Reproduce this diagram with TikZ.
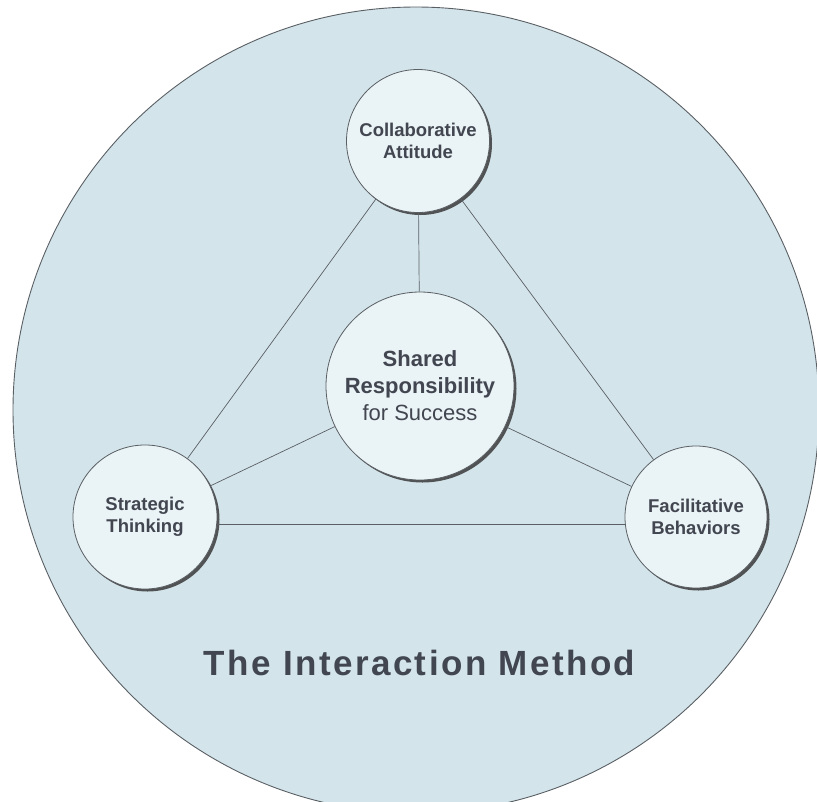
\documentclass[tikz,border=0pt]{standalone}
\usepackage{fontspec}
\setmainfont{Liberation Sans}
\newfontfamily\titlefont[LetterSpace=7]{Liberation Sans}
\usepackage{xcolor}
\usepackage{tikz}
\usetikzlibrary{shadows}
\definecolor{bigfill}{HTML}{D3E5EB}
\definecolor{smallfill}{HTML}{EAF3F5}
\definecolor{edgegray}{HTML}{5A5F64}
\definecolor{textgray}{HTML}{424650}
\definecolor{shadowgray}{HTML}{505254}
\tikzset{
  pillar/.style={circle, draw=edgegray, line width=0.8pt, fill=smallfill, text=textgray,
    align=center, inner sep=0pt,
    drop shadow={shadow xshift=2.5pt, shadow yshift=-2.5pt, fill=shadowgray, opacity=1}},
  link/.style={edgegray, line width=0.7pt}
}

\begin{document}
\begin{tikzpicture}[x=1pt, y=-1pt]
  \useasboundingbox (0,0) rectangle (817,801);
  \clip (0,0) rectangle (817,801);
  \draw[edgegray, line width=0.9pt, fill=bigfill] (416,410) circle (403);
  \node[pillar, minimum size=143pt, font=\fontsize{18.5}{22}\selectfont\bfseries] (collab) at (418,141) {Collaborative\\Attitude};
  \node[pillar, minimum size=188pt, font=\fontsize{22}{27}\selectfont] (shared) at (420,386) {\textbf{Shared}\\\textbf{Responsibility}\\for Success};
  \node[pillar, minimum size=144pt, font=\fontsize{18.5}{22}\selectfont\bfseries] (strat) at (145,517) {Strategic\\Thinking};
  \node[pillar, minimum size=142pt, font=\fontsize{18.5}{22}\selectfont\bfseries] (facil) at (696,517) {Facilitative\\Behaviors};
  \draw[link] (collab) -- (shared);
  \draw[link] (collab) -- (strat);
  \draw[link] (collab) -- (facil);
  \draw[link] (shared) -- (strat);
  \draw[link] (shared) -- (facil);
  \draw[link] (strat.-6) -- (facil.186);
  \node[text=textgray, font=\titlefont\fontsize{35}{40}\selectfont\bfseries] (title) at (419.5,663) {The Interaction Method};
\end{tikzpicture}
\end{document}
